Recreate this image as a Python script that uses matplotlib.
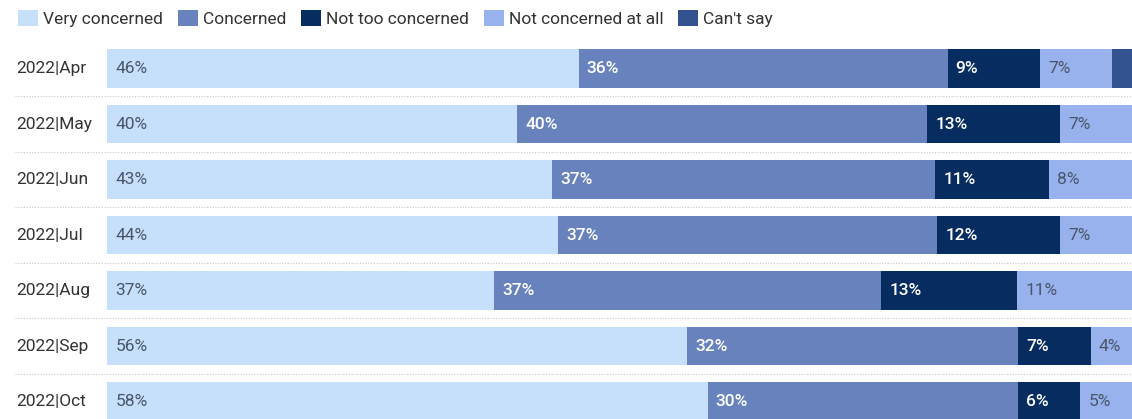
import numpy as np
import matplotlib
matplotlib.use("Agg")
import matplotlib.pyplot as plt
from matplotlib.patches import Patch
from matplotlib.transforms import blended_transform_factory

plt.rcParams['font.family'] = ['Roboto', 'DejaVu Sans']

# data (percent, each row is stacked to 100%)
months = ["2022|Apr", "2022|May", "2022|Jun", "2022|Jul", "2022|Aug", "2022|Sep", "2022|Oct"]
series = ["Very concerned", "Concerned", "Not too concerned", "Not concerned at all", "Can't say"]
very_concerned = [46, 40, 43, 44, 37, 56, 58]
concerned = [36, 40, 37, 37, 37, 32, 30]
not_too = [9, 13, 11, 12, 13, 7, 6]
not_at_all = [7, 7, 8, 7, 11, 4, 5]
cant_say = [2, 0, 0, 0, 0, 0, 0]

colors = ["#c6e0fb", "#6782bd", "#072c60", "#98b2ee", "#34528f"]
label_colors = ["#4a5568", "white", "white", "#4a5568", "white"]
fs = 12.5

W, H = 1132, 419
fig = plt.figure(figsize=(W / 100, H / 100), dpi=100)

top_px = 40.75
pitch = 55.5
ax = fig.add_axes([107 / W, 0, 1 - 107 / W, (H - top_px) / H])

vals = np.array([very_concerned, concerned, not_too, not_at_all, cant_say], dtype=float)
norm = vals / vals.sum(axis=0) * 100
y = np.arange(len(months))

left = np.zeros(len(months))
for k, name in enumerate(series):
    ax.barh(y, norm[k], left=left, height=0.70, color=colors[k], label=name)
    for i in range(len(months)):
        if vals[k, i] >= 3:
            ax.text(left[i] + 0.8, y[i], f"{int(vals[k, i])}%", va="center", ha="left",
                    fontsize=fs, color=label_colors[k],
                    fontweight="medium" if label_colors[k] == "white" else "normal")
    left += norm[k]

ax.set_xlim(0, 100)
ax.set_ylim(-0.5 + (H - top_px) / pitch, -0.5)
ax.axis("off")

# month labels and dotted separators
trans = blended_transform_factory(ax.transAxes, ax.transData)
x0 = (16 - 107) / (W - 107)
for i, m in enumerate(months):
    ax.text(x0, y[i], m, transform=trans, va="center", ha="left", fontsize=fs, color="#333333")
for i in range(len(months) - 1):
    ax.plot([(15 - 107) / (W - 107), 1], [i + 0.5, i + 0.5], transform=trans, clip_on=False,
            color="#c8c8c8", linestyle=(0, (1, 1.5)), linewidth=0.8)

handles = [Patch(facecolor=c, edgecolor="none") for c in colors]
fig.legend(handles, series, loc="center left", bbox_to_anchor=(11 / W, 1 - 18.5 / H), ncol=5,
           frameon=False, fontsize=fs, handlelength=1.15, handleheight=1.09,
           handletextpad=0.29, columnspacing=0.86, labelcolor="#333333", borderaxespad=0)

fig.savefig("out.png", dpi=100)
